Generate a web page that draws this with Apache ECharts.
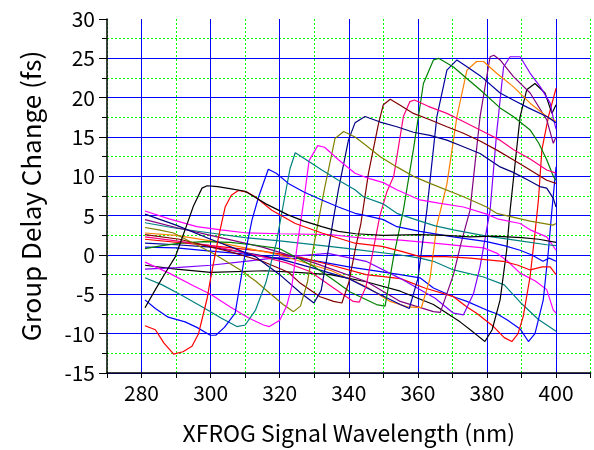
<!DOCTYPE html>
<html><head><meta charset="utf-8">
<script src="https://cdn.jsdelivr.net/npm/echarts@6/dist/echarts.min.js"></script>
<style>html,body{margin:0;padding:0;background:#fff}#c{width:594px;height:450px}</style>
</head><body><div id="c"></div>
<script>
// ---- data (x = wavelength nm, y = group delay change fs) ----
const blackEarly = [[281,-6.7],[284,-4.4],[287,-2.2],[289.8,-0.2],[292.6,3.2],[295,6.2],[297.5,8.5],[299,8.8],[302,8.7],[306,8.4],[310,8.1],[313,7.3],[316,6.5],[322.4,5.1],[327,4.3],[332.2,3.6],[337,3.0],[342,2.7],[350,2.5],[360,2.6],[368,2.5],[375,2.3],[382,2.4],[390,2.2],[395,2.0],[400,1.6]];
const redEarly = [[281,-9.0],[284,-9.5],[286.5,-11.2],[289.3,-12.6],[292,-12.3],[294.6,-11.6],[296.5,-10],[297.5,-8.2],[299,-5.5],[299.9,-3.2],[302.3,2.3],[304.2,6.1],[306,7.6],[308,8.2],[310.5,8.0],[312.9,7.4],[317.7,5.7],[324.5,4.0],[332.2,2.8],[341.8,1.5],[349.6,1.1],[355,0.5],[360.6,-0.2],[368,-0.2],[375.1,-0.4],[384.7,-0.8],[389,-1.3],[392.5,-1.9],[396,-1.5],[398.3,-1.5],[400,-2.5]];
const blueEarly = [[281,-5.7],[284,-6.8],[287.7,-7.9],[292.6,-8.5],[296,-9.2],[299.9,-10.2],[301.5,-10.2],[304,-9.2],[307.1,-7.4],[310,0.2],[312,4.5],[313.9,7.4],[316.7,10.9],[319,10.4],[322.5,9.1],[327,8],[332.2,7.0],[337,6.1],[341.8,5.3],[346,4.9],[350,4.5],[353.9,3.6],[360.6,3.0],[370.2,2.3],[379.9,1.7],[385,1.2],[389.6,0.6],[393,0],[396.2,-0.8],[398,-0.4],[400,-0.8]];
const tealEarly = [[281,-2.9],[286,-3.8],[292,-5.2],[298,-6.7],[303,-8.0],[307.6,-9.1],[310,-8.9],[313,-7.0],[316,-3.5],[319,1.5],[321.5,7.5],[323,11.0],[324.5,13.0],[327,12.3],[332.2,10.8],[337,9.5],[341.8,8.3],[344.2,7.4],[349.9,6.5],[353.9,5.3],[360,4.4],[365,3.7],[370.3,3.2],[379.9,2.4],[389.6,1.8],[397.3,1.3],[400,1.2]];
const magentaEarly = [[281,-0.9],[288,-2.3],[295,-3.9],[300,-5.0],[305.7,-6.6],[311,-8.0],[315.3,-8.9],[317,-9.1],[320,-8.3],[322,-6.5],[323.5,-4.0],[325,1.0],[327,7.0],[328.5,12.0],[331,13.9],[333,13.7],[337,12.1],[341.8,10.4],[346,9.7],[350,9.2],[353.9,8.3],[360.6,7.0],[366,6.6],[373.2,6.1],[379.9,5.2],[383,4.6],[389.6,4.0],[392.5,3.2],[397.3,2.3],[400,0.6]];
const olive = [[281,3.5],[285,3.2],[289.3,2.8],[295,1.5],[300.8,0.2],[308.6,-1.9],[313,-3.3],[317.2,-4.9],[321,-6.3],[324,-7.2],[326,-6.5],[328,-3.5],[330,1.5],[333,8.5],[336,14.8],[338.5,15.7],[341.8,15.0],[344.2,14.2],[349.1,12.5],[353.9,11.2],[358.7,10.0],[363.5,9.1],[373.2,7.4],[379.9,6.1],[382.8,5.3],[392.5,4.3],[399.1,3.8],[400,4.0]];
const navy = [[281,5.2],[290,3.8],[300,2.0],[306,1.0],[312.9,-0.2],[320,-2.5],[326,-4.8],[329.9,-6.1],[332,-4.5],[334,0.5],[335.5,4.5],[337,8.3],[339.9,14.6],[341.8,16.8],[344.7,17.6],[349.1,16.9],[353.9,16.3],[358.7,15.6],[363.5,15.2],[368.4,14.6],[373,13.8],[378,12.9],[383.8,11.2],[387.6,10.5],[392,9.5],[395.3,8.7],[397.3,8.5],[399.2,7.2],[400,6.1]];
const wine = [[281,2.6],[291,2.0],[305,0.5],[315,-0.8],[322.5,-2.2],[326,-3.6],[331.7,-5.3],[335.6,-5.9],[338,-6.1],[340,-3.5],[342,1.0],[343.5,4.0],[345.7,10.4],[348.6,16.7],[350,19.1],[352,19.8],[355,19.0],[358.7,18.0],[363.5,17.2],[368.4,16.3],[373,15.5],[378,14.5],[383,13.3],[387.6,12.1],[392.5,10.8],[397.3,9.5],[400,9.1]];
const pink = [[281,2.3],[290,1.8],[300,1.2],[315,-0.2],[322,-1.0],[328.8,-2.1],[335.6,-4.2],[341.3,-5.9],[343,-6.0],[345,-4.0],[347,0.5],[349,5.0],[351,8.0],[353,10.0],[355.8,17.6],[357.7,19.5],[359,19.7],[363,18.9],[368.4,18.0],[373,17.0],[378,15.9],[383.8,14.6],[387.6,13.4],[392.5,12.2],[397.3,10.8],[400,10.4]];
const green = [[281,0.8],[286,1.2],[291.2,1.5],[298,1.7],[305.7,1.6],[312,1.3],[320,0.8],[330,-1.5],[335,-3.0],[340.4,-4.7],[348,-6.3],[350.5,-6.5],[352.9,-0.4],[355.8,5.7],[358.7,13.4],[361.6,21.8],[364.5,24.8],[366,25.0],[370.3,23.9],[374,22.5],[378,21.0],[383.8,18.7],[387.6,17.6],[392.5,15.9],[395,14.2],[397.3,12.1],[399.2,10.0],[400,9.5]];
const royal = [[281,1.5],[290,1.3],[300,1.0],[310,0.3],[320,-0.5],[330,-1.7],[340,-3.0],[348,-4.8],[354.9,-6.3],[357.5,-6.8],[360,-3.0],[362.6,5.7],[365.5,17.6],[368.4,23.5],[371.3,24.8],[374,24.0],[378,22.8],[383.8,20.6],[387.6,19.7],[392,18.7],[397.3,17.6],[400,16.8]];
const orange = [[281,2.8],[290,2.5],[300,1.8],[310,0.9],[320,0.0],[335,-2.0],[345,-4.0],[352,-5.9],[357,-6.6],[361,-6.7],[363.5,-3.0],[365.5,3.8],[368.4,9.0],[371.3,17.6],[374.2,23.5],[377,24.6],[379,24.6],[382.8,23.1],[387.6,21.4],[392.5,19.3],[397.3,17.6],[400,17.0]];
const purple = [[281,4.5],[290,3.5],[300,2.5],[315,1.0],[330,-1.0],[345.2,-3.4],[354.9,-5.9],[364.5,-7.2],[366.5,-7.3],[370.3,-2.5],[372.5,1.5],[375.1,5.7],[378,17.6],[380.9,25.2],[382,25.4],[383.8,24.8],[387.6,22.7],[392.5,20.6],[397.3,17.2],[399.2,14.2],[400,15.0]];
const violet = [[281,-1.8],[290,-1.6],[300,-1.3],[310,-0.8],[320,-0.3],[334,0.2],[345,-0.8],[355,-3.0],[365,-5.5],[370.3,-7.4],[373.2,-7.6],[376.1,-4.9],[378,-1.5],[380.9,5.7],[382.8,15.5],[384.8,23.9],[386.7,25.2],[389.6,25.2],[392.5,23.1],[395.4,21.4],[398.3,19.3],[399.1,17.6],[400,16.0]];
const blackLate = [[281,-1.3],[290,-1.8],[300,-2.2],[315.8,-2.0],[325,-2.2],[334.6,-2.5],[345,-3.4],[354.9,-4.6],[364.5,-6.3],[372.2,-8.5],[376,-9.8],[379.4,-11.0],[381.5,-9.5],[383.8,-5.7],[385.7,0.6],[386.7,5.7],[389.6,17.6],[391.5,21.0],[393.9,21.8],[396.8,20.6],[398.8,18.0],[400,19.1]];
const redLate = [[281,2.0],[300,1.2],[315,0.5],[326,-0.3],[335,-1.3],[345,-2.5],[355,-3.0],[362,-4.2],[370.3,-5.3],[374.2,-6.6],[377,-7.4],[381.9,-9.1],[385,-10.5],[387.2,-11.0],[389,-10.0],[390.5,-7.8],[392.5,-2.7],[393.9,2.8],[394.9,7.0],[395.9,13.4],[397.8,17.6],[400,21.2]];
const blueLate = [[281,1.0],[290,0.9],[300,0.5],[310,0.1],[320,-0.5],[326,-0.4],[340,-1.5],[354.9,-2.5],[360.6,-2.9],[364.5,-4.2],[370.3,-5.3],[374.2,-5.9],[379.9,-7.0],[383,-7.5],[386,-8.3],[389.6,-9.4],[392,-11.0],[393.9,-10.0],[396.3,-5.7],[397.8,0.6],[398.8,5.7],[400,11.2]];
const tealLate = [[281,4.1],[290,3.4],[300,2.8],[310,2.2],[320,1.8],[325.9,1.5],[340,0.8],[354.9,0.0],[360.6,-0.4],[364.5,-0.8],[370.3,-1.9],[379,-2.8],[385,-3.8],[389.6,-6.0],[394.9,-8.2],[400,-9.7]];
const magentaLate = [[281,5.6],[288,4.6],[296,3.6],[303,3.2],[310.5,2.8],[320,2.7],[334.6,2.6],[345,2.1],[355,1.9],[364.5,1.5],[372,1.2],[379,0.9],[383,0.2],[386,-0.8],[389.6,-2.3],[394,-3.3],[397.3,-4.4],[399.2,-7.0],[400,-7.4]];

const xRange = [270, 410];
const yRange = [-15, 30];
const xLabelStep = 20;

const seriesList = [
  [magentaLate,'#FF00FF'],[tealLate,'#008080'],[blueLate,'#0000FF'],[redLate,'#FF0000'],[blackLate,'#000000'],
  [violet,'#8000FF'],[purple,'#800080'],[orange,'#FF8000'],[royal,'#0000A0'],[green,'#008000'],
  [pink,'#FF0080'],[wine,'#800000'],[navy,'#000080'],[olive,'#808000'],[magentaEarly,'#FF00FF'],
  [tealEarly,'#008080'],[blueEarly,'#0000FF'],[redEarly,'#FF0000'],[blackEarly,'#000000']
];

const font = "'Noto Sans CJK JP', 'Noto Sans', sans-serif";
const chart = echarts.init(document.getElementById('c'), null, {renderer:'canvas'});
chart.setOption({
  animation: false,
  backgroundColor: '#fff',
  grid: { left: 107, right: 3.4, top: 19, bottom: 76, containLabel: false },
  xAxis: [
    { type:'value', min:xRange[0], max:xRange[1], interval:10,
      name:'XFROG Signal Wavelength (nm)', nameLocation:'middle', nameGap:49,
      nameTextStyle:{ fontFamily:font, fontSize:23, color:'#000' },
      axisLine:{ show:true, onZero:false, lineStyle:{ color:'#000', width:1.5 } },
      axisTick:{ show:true, inside:false, length:5, lineStyle:{ color:'#000' } },
      axisLabel:{ margin:10, fontFamily:font, fontSize:21, color:'#000',
        formatter: v => (v % xLabelStep === 0 ? String(v) : '') },
      splitLine:{ show:true, lineStyle:{ color:['#00ff00','rgba(0,0,0,0)'], type:[2,2], width:1 } }
    },
    { type:'value', min:xRange[0], max:xRange[1], interval:10, position:'bottom',
      axisLine:{ show:false }, axisTick:{ show:false }, axisLabel:{ show:false },
      splitLine:{ show:true, lineStyle:{ color:['rgba(0,0,0,0)','#0000ff'], width:1 } }
    }
  ],
  yAxis: {
    type:'value', min:yRange[0], max:yRange[1], interval:5,
    name:'Group Delay Change (fs)', nameLocation:'middle', nameGap:63,
    nameTextStyle:{ fontFamily:font, fontSize:26, color:'#000' },
    axisLine:{ show:true, onZero:false, lineStyle:{ color:'#000', width:1.5 } },
    axisTick:{ show:true, inside:false, length:8, lineStyle:{ color:'#000' } },
    minorTick:{ show:true, splitNumber:2, length:5, lineStyle:{ color:'#000' } },
    axisLabel:{ margin:12, fontFamily:font, fontSize:21, color:'#000' },
    splitLine:{ show:true, showMaxLine:false, lineStyle:{ color:'#0000ff', width:1 } },
    minorSplitLine:{ show:true, lineStyle:{ color:'#00ff00', type:[2,2], width:1 } }
  },
  series: seriesList.map(([d,c]) => ({
    type:'line', data:d, xAxisIndex:0, showSymbol:false, symbol:'none',
    lineStyle:{ color:c, width:1.2 }, itemStyle:{ color:c }, z:3, silent:true
  }))
});
</script></body></html>
